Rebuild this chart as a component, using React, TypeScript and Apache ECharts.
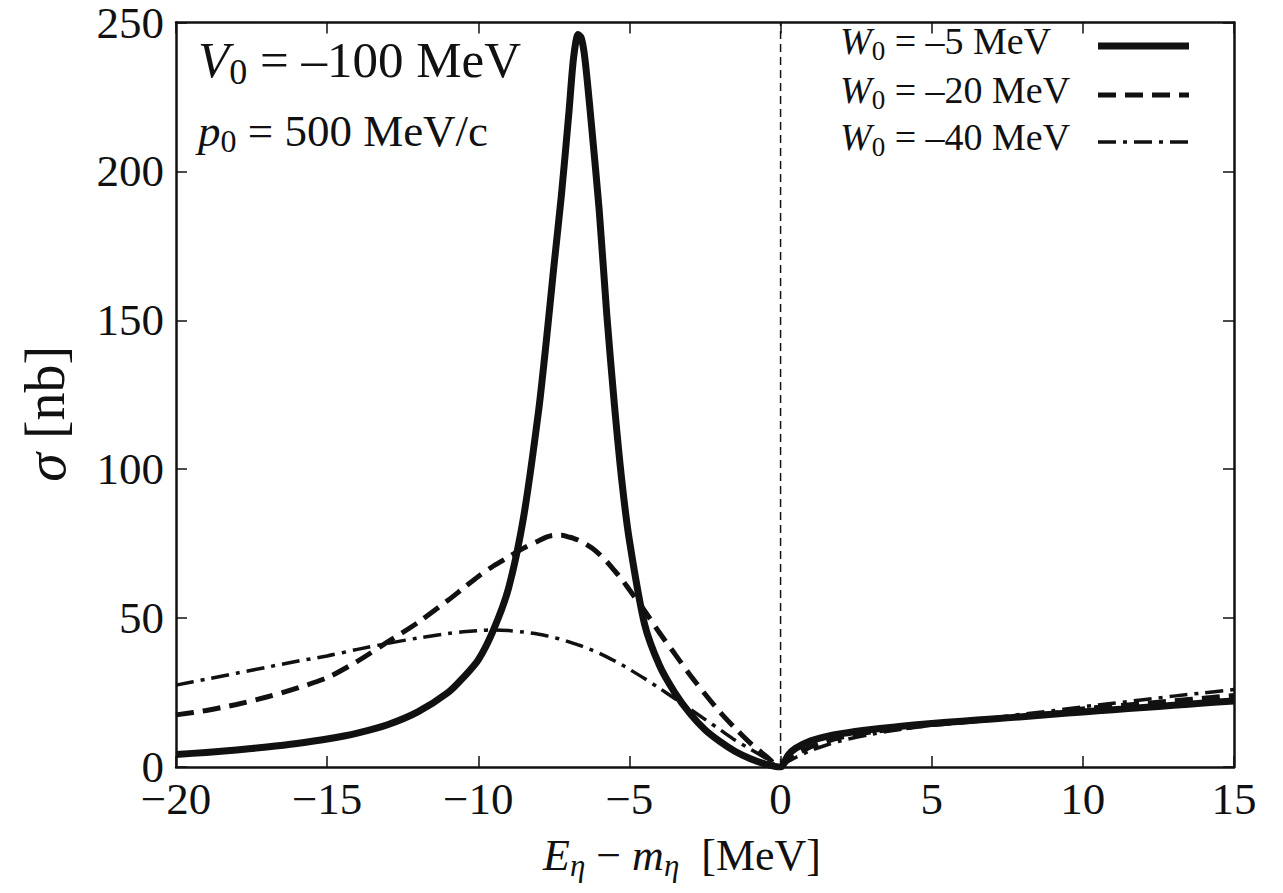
import React, { useEffect, useRef } from "react";
import * as echarts from "echarts";

const energy = [
  -20, -19, -18, -17, -16, -15, -14, -13, -12, -11, -10.5, -10, -9.5, -9, -8.5, -8, -7.75, -7.5,
  -7.25, -7, -6.85, -6.7, -6.6, -6.5, -6.4, -6.25, -6, -5.75, -5.5, -5.25, -5, -4.5, -4, -3.5, -3,
  -2.5, -2, -1.5, -1, -0.5, 0, 0.25, 0.5, 1, 1.5, 2, 3, 4, 5, 6, 7, 8, 9, 10, 11, 12, 13, 14, 15,
];

const sigmaW5 = [
  4.2, 4.9, 5.7, 6.7, 7.9, 9.4, 11.4, 14.2, 18.5, 25, 30, 36, 46, 60, 84, 120, 143, 168,
  192, 220, 238, 246, 245, 240, 231, 215, 187, 152, 122, 96, 76, 48, 34, 25, 18,
  12.5, 8.5, 5.2, 2.8, 1, 0, 4, 6.3, 8.8, 10.2, 11.2, 12.6, 13.7, 14.6, 15.4, 16.1, 16.9, 17.7, 18.5, 19.2, 20, 20.7, 21.5, 22.2,
];

const sigmaW20 = [
  17.5, 19, 21, 23.5, 26.5, 30, 35.5, 42, 48.5, 56, 60, 64, 67.5, 70.5, 73.5, 76, 77.2, 77.8,
  77.8, 77.2, 76.8, 76.2, 75.7, 75.2, 74.6, 73.6, 71.5, 69, 66, 63, 59.5, 52.5, 45, 38, 31,
  24.5, 18.4, 13, 8, 3.8, 0, 2.5, 4.2, 6.8, 8.6, 10, 11.8, 13, 14.2, 15.1, 16, 17, 18, 19.5, 20.4, 21.3, 22.2, 23.1, 24,
];

const sigmaW40 = [
  27.5, 29.5, 31.5, 33.5, 35.5, 37.3, 39.5, 41.5, 43.3, 44.8, 45.4, 45.8, 46, 45.8, 45.3, 44.6, 44.1, 43.5,
  42.8, 42, 41.5, 41, 40.7, 40.3, 39.9, 39.3, 38.2, 37, 35.7, 34.3, 32.8, 29.7, 26.4, 23, 19.5,
  16, 12.5, 9, 6, 3, 0, 1.8, 3.2, 5.5, 7.3, 8.8, 11, 12.7, 14.1, 15.3, 16.5, 17.7, 18.9, 20.2, 21.4, 22.6, 23.8, 24.9, 26,
];

const thresholdX = [0, 0];
const thresholdY = [0, 250];

const legendValues = ["–5 MeV", "–20 MeV", "–40 MeV"];
const potentialLabel = "–100 MeV";
const momentumLabel = "500 MeV/c";

const SERIF = "'Liberation Serif', 'DejaVu Serif', 'Times New Roman', serif";
const INK = "#111";

const toPairs = (xs: number[], ys: number[]) => xs.map((x, i) => [x, ys[i]]);

const fmtTick = (v: number) => (v < 0 ? "\u2212" + Math.abs(v) : String(v));

export default function App() {
  const ref = useRef<HTMLDivElement>(null);

  useEffect(() => {
    document.body.style.margin = "0";
    if (!ref.current) return;
    const chart = echarts.init(ref.current, null, { renderer: "svg" });

    const axisLine = { show: true, onZero: false, lineStyle: { color: INK, width: 2.5 } };
    const tick = { show: true, inside: true, length: 11, lineStyle: { color: INK, width: 1.5 } };

    const lineStyles = [
      { width: 7, type: "solid" as any },
      { width: 5, type: [18, 9] as any },
      { width: 3.5, type: [18, 7, 4, 7] as any },
    ];

    const legendRowsY = [46, 95, 142];

    const richLegend = {
      i: { fontFamily: SERIF, fontStyle: "italic", fontSize: 38, lineHeight: 46, fill: INK },
      s: { fontFamily: SERIF, fontSize: 27, lineHeight: 27, verticalAlign: "bottom", fill: INK },
      n: { fontFamily: SERIF, fontSize: 38, lineHeight: 46, fill: INK },
    };

    const graphics: any[] = [];
    legendValues.forEach((lab, k) => {
      graphics.push({
        type: "text",
        left: 840,
        top: legendRowsY[k] - 24,
        style: {
          text: `{i|W}{s|0}{n| = ${lab}}`,
          rich: richLegend,
          fill: INK,
        },
      });
      graphics.push({
        type: "line",
        shape: { x1: 1098, y1: legendRowsY[k], x2: 1189, y2: legendRowsY[k] },
        style: {
          stroke: INK,
          lineWidth: lineStyles[k].width,
          lineDash: k === 0 ? null : lineStyles[k].type,
        },
      });
    });

    graphics.push({
      type: "text",
      left: 198,
      top: 34,
      style: {
        text: `{i|V}{s|0}{n| = ${potentialLabel}}`,
        rich: {
          i: { fontFamily: SERIF, fontStyle: "italic", fontSize: 51, lineHeight: 60, fill: INK },
          s: { fontFamily: SERIF, fontSize: 36, lineHeight: 36, verticalAlign: "bottom", fill: INK },
          n: { fontFamily: SERIF, fontSize: 51, lineHeight: 60, fill: INK },
        },
      },
    });
    graphics.push({
      type: "text",
      left: 198,
      top: 108,
      style: {
        text: `{i|p}{s|0}{n| = ${momentumLabel}}`,
        rich: {
          i: { fontFamily: SERIF, fontStyle: "italic", fontSize: 45, lineHeight: 52, fill: INK },
          s: { fontFamily: SERIF, fontSize: 32, lineHeight: 32, verticalAlign: "bottom", fill: INK },
          n: { fontFamily: SERIF, fontSize: 45, lineHeight: 52, fill: INK },
        },
      },
    });

    const option: any = {
      animation: false,
      backgroundColor: "#fff",
      grid: { left: 176, top: 17, right: 49, bottom: 126, containLabel: false },
      xAxis: [
        {
          type: "value",
          min: -20,
          max: 15,
          interval: 5,
          position: "bottom",
          axisLine,
          axisTick: tick,
          splitLine: { show: false },
          axisLabel: {
            formatter: fmtTick,
            fontFamily: SERIF,
            fontSize: 45,
            lineHeight: 34,
            color: INK,
            margin: 15,
          },
          name: "{i|E}{s|η}{n| \u2212 }{i|m}{s|η}{n|  [MeV]}",
          nameLocation: "middle",
          nameGap: 62,
          nameTextStyle: {
            padding: [0, 46, 0, 0],
            rich: {
              i: { fontFamily: SERIF, fontStyle: "italic", fontSize: 44, lineHeight: 52, color: INK },
              s: { fontFamily: SERIF, fontStyle: "italic", fontSize: 31, lineHeight: 31, verticalAlign: "bottom", color: INK },
              n: { fontFamily: SERIF, fontSize: 44, lineHeight: 52, color: INK },
            },
          },
        },
        {
          type: "value",
          min: -20,
          max: 15,
          interval: 5,
          position: "top",
          axisLine,
          axisTick: tick,
          splitLine: { show: false },
          axisLabel: { show: false },
        },
      ],
      yAxis: [
        {
          type: "value",
          min: 0,
          max: 250,
          interval: 50,
          position: "left",
          axisLine,
          axisTick: tick,
          splitLine: { show: false },
          axisLabel: { fontFamily: SERIF, fontSize: 45, lineHeight: 28, color: INK, margin: 12 },
          name: "{s|σ}{n| [nb]}",
          nameLocation: "middle",
          nameGap: 102,
          nameTextStyle: {
            padding: [0, 38, 0, 0],
            rich: {
              s: { fontFamily: SERIF, fontStyle: "italic", fontSize: 58, color: INK },
              n: { fontFamily: SERIF, fontSize: 56, color: INK },
            },
          },
        },
        {
          type: "value",
          min: 0,
          max: 250,
          interval: 50,
          position: "right",
          axisLine,
          axisTick: tick,
          splitLine: { show: false },
          axisLabel: { show: false },
        },
      ],
      series: [
        {
          name: "W0 = –5 MeV",
          type: "line",
          data: toPairs(energy, sigmaW5),
          showSymbol: false,
          symbol: "none",
          smooth: 0.25,
          lineStyle: { color: INK, width: lineStyles[0].width, type: "solid", join: "round" },
          z: 3,
        },
        {
          name: "W0 = –20 MeV",
          type: "line",
          data: toPairs(energy, sigmaW20),
          showSymbol: false,
          symbol: "none",
          smooth: 0.3,
          lineStyle: { color: INK, width: lineStyles[1].width, type: lineStyles[1].type },
          z: 4,
        },
        {
          name: "W0 = –40 MeV",
          type: "line",
          data: toPairs(energy, sigmaW40),
          showSymbol: false,
          symbol: "none",
          smooth: 0.3,
          lineStyle: { color: INK, width: lineStyles[2].width, type: lineStyles[2].type },
          z: 5,
        },
        {
          name: "threshold",
          type: "line",
          data: toPairs(thresholdX, thresholdY),
          showSymbol: false,
          symbol: "none",
          lineStyle: { color: INK, width: 1.5, type: [8, 5] },
          z: 2,
        },
      ],
      graphic: graphics,
    };

    chart.setOption(option);
    return () => chart.dispose();
  }, []);

  return (
    <div
      ref={ref}
      style={{ position: "absolute", left: 0, top: 0, width: 1283, height: 893, background: "#fff" }}
    />
  );
}
